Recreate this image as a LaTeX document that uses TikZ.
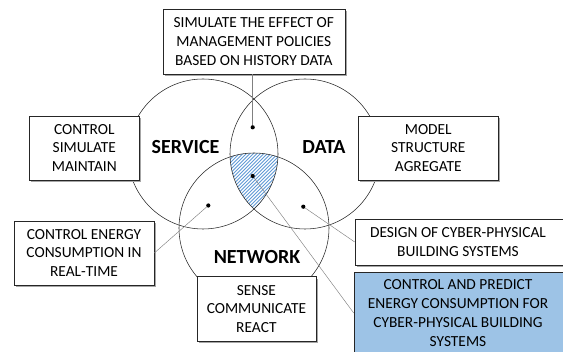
\documentclass[tikz,border=0pt]{standalone}
\usepackage{fontspec}
\setmainfont{Carlito}
\usetikzlibrary{shadows}
\definecolor{boxblue}{RGB}{157,195,230}
\definecolor{hatchblue}{RGB}{96,154,214}
\tikzset{
  circ/.style={draw=black!85, line width=0.55pt},
  boxn/.style={draw=black!85, line width=0.6pt, fill=white, inner sep=0pt,
    general shadow={fill=black!35, shadow xshift=2pt, shadow yshift=-2pt}},
  boxtext/.style={align=center, font=\fontsize{15.4}{18.8}\selectfont, inner sep=0pt},
  lbl/.style={font=\fontsize{20}{24}\selectfont\bfseries, inner sep=0pt},
  conn/.style={draw=black!50, line width=0.45pt},
  dotn/.style={circle, fill=black, inner sep=0pt, minimum size=4.2pt},
  hatch/.style={draw=hatchblue, line width=0.95pt},
}
\begin{document}
\begin{tikzpicture}[x=1pt,y=-1pt]
\useasboundingbox (0,0) rectangle (563,352);
\clip (0,0) rectangle (563,352);

% circle centres
\coordinate (cS) at (203,154);
\coordinate (cD) at (305,154);
\coordinate (cN) at (254,228);

% hatched triple intersection
\begin{scope}
  \clip (cS) circle (75pt);
  \clip (cD) circle (75pt);
  \clip (cN) circle (75pt);
  \fill[white] (150,90) rectangle (360,260);
  \foreach \i in {0,...,46} {
    \draw[hatch] (95+\i*3.5,270) -- ++(180,-180);
  }
\end{scope}

% circles
\draw[circ] (cS) circle (75pt);
\draw[circ] (cD) circle (75pt);
\draw[circ] (cN) circle (75pt);

% labels
\node[lbl] (service) at (185.5,147) {SERVICE};
\node[lbl] (data) at (324,147) {DATA};
\node[lbl] (network) at (257,257) {NETWORK};

% dots
\node[dotn] (dotT) at (252.7,127.3) {};
\node[dotn] (dotC) at (252.7,176) {};
\node[dotn] (dotL) at (208.3,205.5) {};
\node[dotn] (dotR) at (303.3,206.7) {};

% boxes
\node[boxn, boxtext, minimum width=182pt, minimum height=64.7pt] (topbox) at (253.8,41.7)
  {SIMULATE THE EFFECT OF\\MANAGEMENT POLICIES\\BASED ON HISTORY DATA};
\node[boxn, boxtext, minimum width=110pt, minimum height=64pt] (csm) at (84.3,148)
  {CONTROL\\SIMULATE\\MAINTAIN};
\node[boxn, boxtext, minimum width=140pt, minimum height=64pt] (msa) at (428.3,148)
  {MODEL\\STRUCTURE\\AGREGATE};
\node[boxn, boxtext, minimum width=140pt, minimum height=64pt] (ce) at (84,253)
  {CONTROL ENERGY\\CONSUMPTION IN\\REAL-TIME};
\node[boxn, boxtext, minimum width=119pt, minimum height=64.6pt] (scr) at (256.4,309)
  {SENSE\\COMMUNICATE\\REACT};
\node[boxn, minimum width=215pt, minimum height=46pt] (design) at (462.5,242) {};
\node[boxtext] (designtxt) at (458,241.7) {DESIGN OF CYBER-PHYSICAL\\BUILDING SYSTEMS};
\node[boxn, fill=boxblue, minimum width=216pt, minimum height=90pt] (blue) at (462,317.7) {};
\node[boxtext] (bluetxt) at (458,313) {CONTROL AND PREDICT\\ENERGY CONSUMPTION FOR\\CYBER-PHYSICAL BUILDING\\SYSTEMS};

% connectors
\draw[conn] (dotT) -- (dotT |- topbox.south);
\draw[conn] (dotL) -- (ce.east);
\draw[conn] (dotR) -- (design.west);
\draw[conn] (dotC) -- (blue.west |- bluetxt.center);
\end{tikzpicture}
\end{document}
